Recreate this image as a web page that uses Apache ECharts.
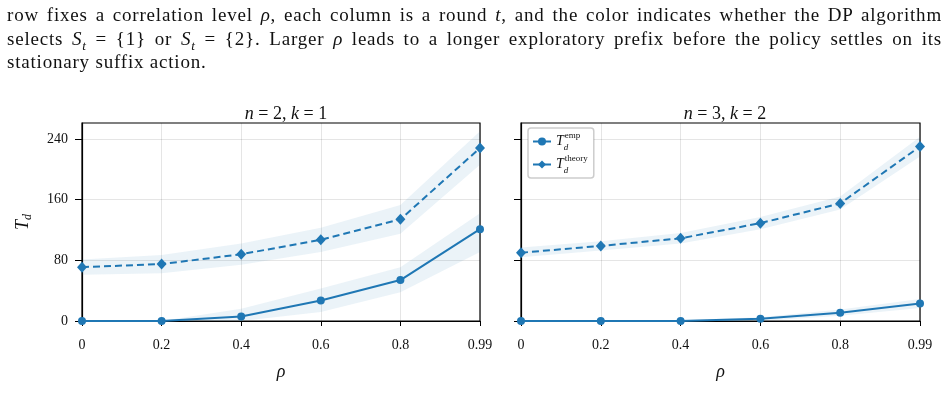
<!DOCTYPE html>
<html>
<head>
<meta charset="utf-8">
<script src="https://cdn.jsdelivr.net/npm/echarts@6/dist/echarts.min.js"></script>
<style>
  html, body { margin: 0; padding: 0; background: #fff; }
  #chart { position: absolute; left: 0; top: 0; width: 947px; height: 418px; }
  #cap { position: absolute; left: 7px; top: 3px; width: 935px; z-index: 2;
         font-family: 'Liberation Serif', serif; font-size: 19px; letter-spacing: 0.8px;
         line-height: 23.5px; color: #111; }
  #cap .j { text-align: justify; text-align-last: justify; }
  #cap sub { font-size: 70%; line-height: 0; }
</style>
</head>
<body>
<div id="chart"></div>
<div id="cap">
  <div class="j">row fixes a correlation level <i>ρ</i>, each column is a round <i>t</i>, and the color indicates whether the DP algorithm</div>
  <div class="j">selects <i>S<sub>t</sub></i> = {1} or <i>S<sub>t</sub></i> = {2}. Larger <i>ρ</i> leads to a longer exploratory prefix before the policy settles on its</div>
  <div>stationary suffix action.</div>
</div>
<script>
// rho values (category axis, evenly spaced)
const rhos = ['0', '0.2', '0.4', '0.6', '0.8', '0.99'];
const yTicks = [0, 80, 160, 240];

// panel 1: n=2, k=1
const emp1 = [0, 0, 6, 27, 54, 121];
const emp1Lo = [0, 0, 0, 12, 38, 91];
const emp1Hi = [0, 0, 16, 43, 71, 142];
const theo1 = [71, 75, 88, 107, 134, 228];
const theo1Lo = [61, 63, 74, 91, 115, 206];
const theo1Hi = [81, 87, 102, 123, 153, 250];

// panel 2: n=3, k=2
const emp2 = [0, 0, 0, 3, 11, 23];
const emp2Lo = [0, 0, 0, 0, 7, 17];
const emp2Hi = [0, 0, 1, 5, 15, 29];
const theo2 = [90, 99, 109, 129, 155, 230];
const theo2Lo = [84, 93, 102, 121, 147, 217];
const theo2Hi = [97, 105, 116, 137, 164, 243];

const blue = '#1f77b4';
const band = 'rgba(31,119,180,0.13)';
const serif = 'Liberation Serif';

const chart = echarts.init(document.getElementById('chart'), null, { renderer: 'canvas' });

function bandSeries(lo, hi, idx, key) {
  return [
    { type: 'line', xAxisIndex: idx, yAxisIndex: idx, stack: key, data: lo,
      symbol: 'none', lineStyle: { opacity: 0 }, silent: true, z: 1 },
    { type: 'line', xAxisIndex: idx, yAxisIndex: idx, stack: key,
      data: hi.map((v, i) => v - lo[i]),
      symbol: 'none', lineStyle: { opacity: 0 }, areaStyle: { color: band }, silent: true, z: 1 }
  ];
}

function mainSeries(name, data, idx, dashed) {
  return {
    name: name, type: 'line', xAxisIndex: idx, yAxisIndex: idx, data: data,
    symbol: dashed ? 'diamond' : 'circle',
    symbolSize: dashed ? [10, 11] : 8,
    itemStyle: { color: blue },
    lineStyle: { color: blue, width: 2, type: dashed ? [7, 4] : 'solid' },
    z: 3
  };
}

const xAxisBase = {
  type: 'category', data: rhos, boundaryGap: false,
  axisLine: { lineStyle: { color: '#000', width: 1.2 } },
  axisTick: { show: true, length: 5, alignWithLabel: true, lineStyle: { color: '#000' } },
  axisLabel: { color: '#111', fontFamily: serif, fontSize: 14, margin: 17 },
  splitLine: { show: true, lineStyle: { color: 'rgba(0,0,0,0.1)', width: 1 } },
  name: 'ρ', nameLocation: 'middle', nameGap: 42,
  nameTextStyle: { fontFamily: serif, fontStyle: 'italic', fontSize: 18, color: '#111' }
};

const yAxisBase = {
  type: 'value', min: 0, max: 261,
  axisLine: { show: true, lineStyle: { color: '#000', width: 1.2 } },
  axisTick: { show: true, length: 7, customValues: yTicks, lineStyle: { color: '#000' } },
  axisLabel: { color: '#111', fontFamily: serif, fontSize: 14, margin: 14, customValues: yTicks },
  splitLine: { show: true, lineStyle: { color: 'rgba(0,0,0,0.1)', width: 1 } }
};

const titleRich = {
  i: { fontFamily: serif, fontStyle: 'italic', fontWeight: 'normal', fontSize: 18, color: '#111' },
  r: { fontFamily: serif, fontWeight: 'normal', fontSize: 18, color: '#111' }
};

chart.setOption({
  animation: false,
  backgroundColor: '#fff',
  title: [
    { text: '{i|n}{r| = 2, }{i|k}{r| = 1}', left: 281, top: 100, textAlign: 'center',
      textStyle: { fontWeight: 'normal', rich: titleRich } },
    { text: '{i|n}{r| = 3, }{i|k}{r| = 2}', left: 720, top: 100, textAlign: 'center',
      textStyle: { fontWeight: 'normal', rich: titleRich } }
  ],
  grid: [
    { left: 82, top: 123, width: 398, height: 198, show: true, borderColor: '#000', borderWidth: 1.2 },
    { left: 521, top: 123, width: 399, height: 198, show: true, borderColor: '#000', borderWidth: 1.2 }
  ],
  xAxis: [
    Object.assign({}, xAxisBase, { gridIndex: 0 }),
    Object.assign({}, xAxisBase, { gridIndex: 1 })
  ],
  yAxis: [
    Object.assign({}, yAxisBase, {
      gridIndex: 0,
      name: '{t|T}{d|d}', nameLocation: 'middle', nameGap: 48, nameRotate: 90,
      nameTextStyle: { rich: {
        t: { fontFamily: serif, fontStyle: 'italic', fontSize: 18, color: '#111', lineHeight: 22 },
        d: { fontFamily: serif, fontStyle: 'italic', fontSize: 12, color: '#111', verticalAlign: 'bottom' }
      } }
    }),
    Object.assign({}, yAxisBase, {
      gridIndex: 1,
      axisLabel: Object.assign({}, yAxisBase.axisLabel, { show: false })
    })
  ],
  legend: {
    data: ['emp', 'theory'],
    orient: 'vertical', left: 528, top: 128,
    itemWidth: 18, itemHeight: 10, itemGap: 2,
    padding: [3, 6, 3, 4],
    backgroundColor: '#fff',
    borderColor: 'rgba(0,0,0,0.2)', borderWidth: 1.5, borderRadius: 3,
    formatter: function (name) { return '{t|T}{d|d}{s|' + name + '}'; },
    textStyle: {
      rich: {
        t: { fontFamily: serif, fontStyle: 'italic', fontSize: 14, color: '#111', lineHeight: 21, verticalAlign: 'middle' },
        d: { fontFamily: serif, fontStyle: 'italic', fontSize: 9, color: '#111', width: 1, verticalAlign: 'bottom' },
        s: { fontFamily: serif, fontSize: 9, color: '#111', verticalAlign: 'top' }
      }
    }
  },
  series: [].concat(
    bandSeries(emp1Lo, emp1Hi, 0, 'be1'),
    bandSeries(theo1Lo, theo1Hi, 0, 'bt1'),
    bandSeries(emp2Lo, emp2Hi, 1, 'be2'),
    bandSeries(theo2Lo, theo2Hi, 1, 'bt2'),
    [
      mainSeries('emp', emp1, 0, false),
      mainSeries('theory', theo1, 0, true),
      mainSeries('emp', emp2, 1, false),
      mainSeries('theory', theo2, 1, true)
    ]
  )
});
</script>
</body>
</html>
